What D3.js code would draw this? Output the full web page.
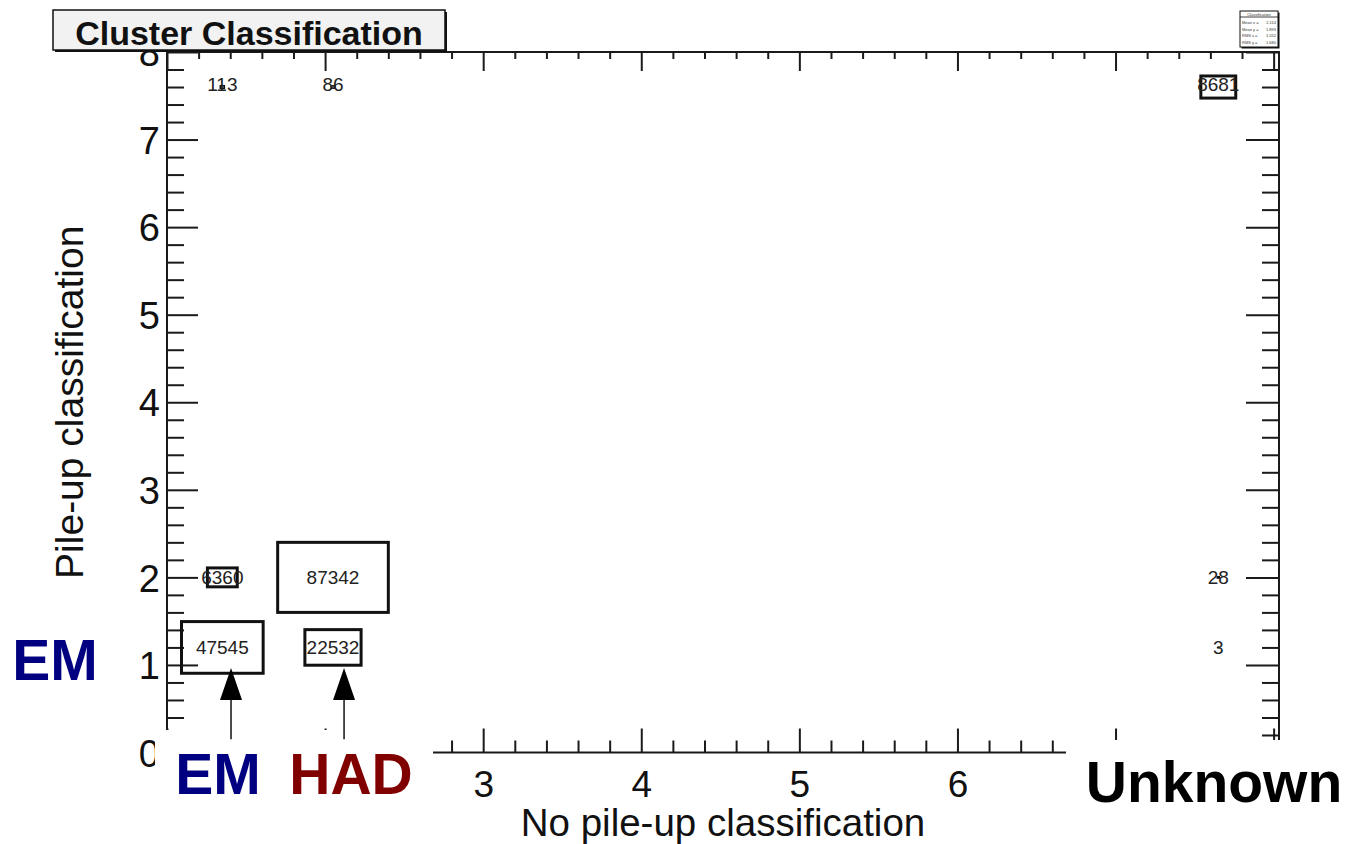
<!DOCTYPE html>
<html>
<head>
<meta charset="utf-8">
<script src="https://cdn.jsdelivr.net/npm/d3@7"></script>
<style>
  html, body { margin: 0; padding: 0; background: #fff; }
  svg { display: block; }
  text { font-family: "Liberation Sans", Arial, Helvetica, sans-serif; }
</style>
</head>
<body>
<svg id="chart" width="1349" height="844"></svg>
<script>
// ---------------- data ----------------
const chartTitle = "Cluster Classification";
const xTitle = "No pile-up classification";
const yTitle = "Pile-up classification";
const xBinCenters = [1.35, 2.05, 7.65];      // EM, HAD, Unknown columns
const yBinCenters = [1.2, 2.0, 7.6];         // rows
const binWidthX = 0.7;
const binWidthY = 0.8;
// counts[row][col]  (rows follow yBinCenters, cols follow xBinCenters)
const countsRow1 = [47545, 22532, 3];
const countsRow2 = [6360, 87342, 28];
const countsRow3 = [113, 86, 8681];
const counts = [countsRow1, countsRow2, countsRow3];
const xTickValues = [1, 2, 3, 4, 5, 6, 7, 8];
const xTickLabelsShown = [3, 4, 5, 6];       // the others are covered in the reference
const yTickValues = [0, 1, 2, 3, 4, 5, 6, 7, 8];
const statNames = ["Mean x", "Mean y", "RMS x", "RMS y"];
const statValues = ["2.114", "1.893", "1.552", "1.680"];
const arrowX = [1.405, 2.12];   // annotation arrows (data units)
const arrowTipY = 0.965;
const arrowTailY = 0.15;

// ---------------- layout ----------------
const svg = d3.select("#chart");
const frame = { left: 167, right: 1279, top: 52, bottom: 752.5 };
const x = d3.scaleLinear().domain([1, 8.034]).range([frame.left, frame.right]);
const y = d3.scaleLinear().domain([0, 8]).range([frame.bottom, frame.top]);
const ink = "#1a1a1a";

function minors(lo, hi) {
  const out = [];
  for (let v = lo; v <= hi + 1e-9; v += 0.2) {
    const r = Math.round(v * 5) / 5;
    if (Math.abs(r - Math.round(r)) > 1e-6) out.push(r);
  }
  return out;
}
const xMinor = minors(1, 8);
const yMinor = minors(0, 8);

function styleAxis(g, fs) {
  g.select(".domain").remove();
  g.selectAll(".tick line").attr("stroke", ink).attr("stroke-width", 2);
  g.selectAll(".tick text").attr("fill", "#111").attr("font-size", fs || 38)
    .attr("font-family", "'Liberation Sans', Arial, sans-serif");
  g.selectAll(".tick text").filter(function () { return this.textContent === ""; }).remove();
}

// left axis (ticks inward, labels outside)
svg.append("g").attr("transform", `translate(${frame.left},0)`)
  .call(d3.axisLeft(y).tickValues(yTickValues).tickSize(-31).tickPadding(7).tickFormat(d3.format("d")))
  .call(styleAxis)
  .call(g => g.selectAll(".tick text").attr("dy", "0.36em"));
svg.append("g").attr("transform", `translate(${frame.left},0)`)
  .call(d3.axisLeft(y).tickValues(yMinor).tickSize(-17).tickFormat(""))
  .call(styleAxis);
// right axis (ticks inward)
svg.append("g").attr("transform", `translate(${frame.right},0)`)
  .call(d3.axisRight(y).tickValues(yTickValues).tickSize(-33).tickFormat(""))
  .call(styleAxis);
svg.append("g").attr("transform", `translate(${frame.right},0)`)
  .call(d3.axisRight(y).tickValues(yMinor).tickSize(-17).tickFormat(""))
  .call(styleAxis);
// bottom axis
svg.append("g").attr("transform", `translate(0,${frame.bottom})`)
  .call(d3.axisBottom(x).tickValues(xTickValues).tickSize(-24).tickPadding(9)
    .tickFormat(d => xTickLabelsShown.includes(d) ? d3.format("d")(d) : ""))
  .call(g => styleAxis(g, 37))
  .call(g => g.selectAll(".tick text").attr("dy", "0.95em"));
svg.append("g").attr("transform", `translate(0,${frame.bottom})`)
  .call(d3.axisBottom(x).tickValues(xMinor).tickSize(-12).tickFormat(""))
  .call(styleAxis);
// top axis
svg.append("g").attr("transform", `translate(0,${frame.top})`)
  .call(d3.axisTop(x).tickValues(xTickValues).tickSize(-19).tickFormat(""))
  .call(styleAxis);
svg.append("g").attr("transform", `translate(0,${frame.top})`)
  .call(d3.axisTop(x).tickValues(xMinor).tickSize(-7).tickFormat(""))
  .call(styleAxis);

// frame
svg.append("rect")
  .attr("x", frame.left).attr("y", frame.top)
  .attr("width", frame.right - frame.left).attr("height", frame.bottom - frame.top)
  .attr("fill", "none").attr("stroke", ink).attr("stroke-width", 2);

// axis titles
svg.append("text").attr("x", (frame.left + frame.right) / 2).attr("y", 836)
  .attr("text-anchor", "middle").attr("font-size", 38.5).attr("fill", "#111").text(xTitle);
svg.append("text")
  .attr("transform", `translate(83,${(frame.top + frame.bottom) / 2}) rotate(-90)`)
  .attr("text-anchor", "middle").attr("font-size", 39).attr("fill", "#111").text(yTitle);

// ---------------- boxes ----------------
const zmax = d3.max(counts.flat());
const cells = [];
counts.forEach((row, i) => row.forEach((c, j) => cells.push({ xc: xBinCenters[j], yc: yBinCenters[i], c })));
const boxes = svg.append("g");
cells.forEach(d => {
  const r = Math.sqrt(d.c / zmax);
  const hw = binWidthX * r / 2, hh = binWidthY * r / 2;
  boxes.append("rect")
    .attr("x", x(d.xc - hw)).attr("y", y(d.yc + hh))
    .attr("width", x(d.xc + hw) - x(d.xc - hw))
    .attr("height", y(d.yc - hh) - y(d.yc + hh))
    .attr("fill", "none").attr("stroke", "#111").attr("stroke-width", r > 0.1 ? 3 : 1.6);
  boxes.append("text")
    .attr("x", x(d.xc)).attr("y", y(d.yc) - (d.yc > 7 ? 3 : 0)).attr("dy", "0.36em")
    .attr("text-anchor", "middle").attr("font-size", 19).attr("fill", "#222")
    .text(d.c);
});

// ---------------- composite white patches ----------------
svg.append("rect").attr("x", 155).attr("y", 730).attr("width", 433 - 155).attr("height", 120).attr("fill", "#fff");
svg.append("rect").attr("x", 1066).attr("y", 740).attr("width", 300).attr("height", 120).attr("fill", "#fff");

// ---------------- annotations ----------------
arrowX.forEach(ax => {
  const px = x(ax);
  svg.append("line").attr("x1", px).attr("x2", px)
    .attr("y1", y(arrowTailY)).attr("y2", y(arrowTipY) + 20)
    .attr("stroke", "#111").attr("stroke-width", 1.5);
  const tip = y(arrowTipY);
  svg.append("path")
    .attr("d", `M${px},${tip} L${px - 11},${tip + 32} L${px + 11},${tip + 32} Z`)
    .attr("fill", "#000");
});

svg.append("text").attr("x", 218).attr("y", 794).attr("text-anchor", "middle")
  .attr("font-size", 57).attr("font-weight", "bold").attr("fill", "#000080").text("EM");
svg.append("text").attr("x", 351).attr("y", 794).attr("text-anchor", "middle")
  .attr("font-size", 57).attr("font-weight", "bold").attr("fill", "#800000").text("HAD");
svg.append("text").attr("x", 55).attr("y", 680).attr("text-anchor", "middle")
  .attr("font-size", 57).attr("font-weight", "bold").attr("fill", "#000080").text("EM");
svg.append("text").attr("x", 1214).attr("y", 802).attr("text-anchor", "middle")
  .attr("font-size", 57).attr("font-weight", "bold").attr("fill", "#000").text("Unknown");

// ---------------- title box ----------------
svg.append("rect").attr("x", 55).attr("y", 12).attr("width", 392).attr("height", 40).attr("fill", "#111");
svg.append("rect").attr("x", 53).attr("y", 10).attr("width", 392).attr("height", 40)
  .attr("fill", "#f2f2f2").attr("stroke", "#111").attr("stroke-width", 1.5);
svg.append("text").attr("x", 249).attr("y", 45).attr("text-anchor", "middle")
  .attr("font-size", 34).attr("font-weight", "bold").attr("fill", "#111").text(chartTitle);

// ---------------- stats box ----------------
const sb = { x: 1240, y: 11, w: 38, h: 36 };
svg.append("rect").attr("x", sb.x + 1.5).attr("y", sb.y + 1.5).attr("width", sb.w).attr("height", sb.h).attr("fill", "#111");
svg.append("rect").attr("x", sb.x).attr("y", sb.y).attr("width", sb.w).attr("height", sb.h)
  .attr("fill", "#fff").attr("stroke", "#111").attr("stroke-width", 1);
svg.append("text").attr("x", sb.x + sb.w / 2).attr("y", sb.y + 4.5).attr("text-anchor", "middle")
  .attr("font-size", 4).attr("fill", "#333").text("Classification");
svg.append("line").attr("x1", sb.x).attr("x2", sb.x + sb.w).attr("y1", sb.y + 6).attr("y2", sb.y + 6)
  .attr("stroke", "#111").attr("stroke-width", 0.8);
statNames.forEach((n, i) => {
  const ty = sb.y + 13 + i * 6.5;
  svg.append("text").attr("x", sb.x + 2).attr("y", ty).attr("font-size", 4).attr("fill", "#333").text(n + " =");
  svg.append("text").attr("x", sb.x + sb.w - 2).attr("y", ty).attr("text-anchor", "end")
    .attr("font-size", 4).attr("fill", "#333").text(statValues[i]);
});
</script>
</body>
</html>
